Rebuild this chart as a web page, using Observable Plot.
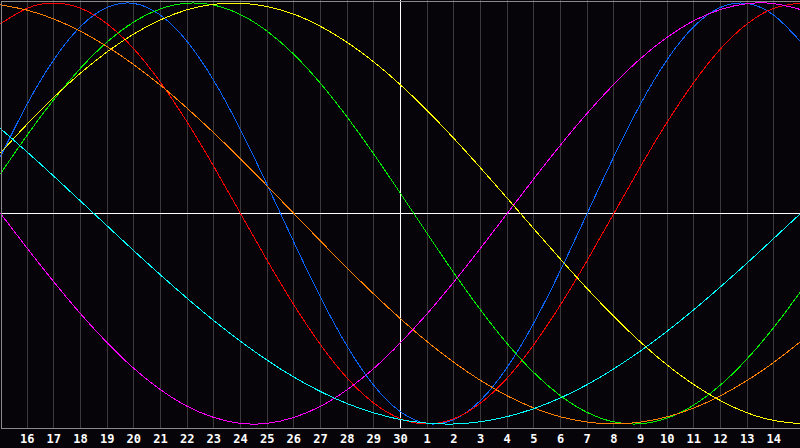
<!DOCTYPE html>
<html>
<head>
<meta charset="utf-8">
<script src="https://cdn.jsdelivr.net/npm/d3@7"></script>
<script src="https://cdn.jsdelivr.net/npm/@observablehq/plot@0.6"></script>
<style>
html, body { margin: 0; padding: 0; background: #060409; overflow: hidden; }
#chart svg { display: block; }
</style>
</head>
<body>
<div id="chart"></div>
<script>
// Day of month for each column position (left edge .. right edge)
const dayLabels = [15,16,17,18,19,20,21,22,23,24,25,26,27,28,29,30,1,2,3,4,5,6,7,8,9,10,11,12,13,14,15];
const todayIndex = 15; // day 30, the white centre line

// Cycle values at each day position (-1 .. 1)
const physical     = [0.270,0.520,0.731,0.888,0.979,0.998,0.942,0.817,0.631,0.398,0.136,-0.136,-0.398,-0.631,-0.817,-0.942,-0.998,-0.979,-0.888,-0.731,-0.520,-0.270,0.000,0.270,0.520,0.731,0.888,0.979,0.998,0.942,0.817];
const emotional    = [0.901,0.975,1.000,0.975,0.901,0.782,0.623,0.434,0.223,0.000,-0.223,-0.434,-0.623,-0.782,-0.901,-0.975,-1.000,-0.975,-0.901,-0.782,-0.623,-0.434,-0.223,0.000,0.223,0.434,0.623,0.782,0.901,0.975,1.000];
const intellectual = [0.189,0.372,0.541,0.690,0.815,0.910,0.972,0.999,0.990,0.945,0.866,0.756,0.618,0.458,0.282,0.095,-0.095,-0.282,-0.458,-0.618,-0.756,-0.866,-0.945,-0.990,-0.999,-0.972,-0.910,-0.815,-0.690,-0.541,-0.372];
const intuitive    = [0.000,-0.165,-0.325,-0.476,-0.614,-0.736,-0.837,-0.916,-0.969,-0.997,-0.997,-0.969,-0.916,-0.837,-0.736,-0.614,-0.476,-0.325,-0.165,0.000,0.165,0.325,0.476,0.614,0.736,0.837,0.916,0.969,0.997,0.997,0.969];
const aesthetic    = [0.288,0.425,0.552,0.667,0.768,0.853,0.920,0.968,0.994,0.999,0.983,0.947,0.889,0.813,0.720,0.611,0.489,0.357,0.217,0.073,-0.073,-0.217,-0.357,-0.489,-0.611,-0.720,-0.813,-0.889,-0.947,-0.983,-0.999];
const awareness    = [0.991,0.966,0.924,0.866,0.793,0.707,0.609,0.500,0.383,0.259,0.131,0.000,-0.131,-0.259,-0.383,-0.500,-0.609,-0.707,-0.793,-0.866,-0.924,-0.966,-0.991,-1.000,-0.991,-0.966,-0.924,-0.866,-0.793,-0.707,-0.609];
const spiritual    = [0.403,0.292,0.177,0.059,-0.059,-0.177,-0.292,-0.403,-0.509,-0.607,-0.697,-0.777,-0.846,-0.903,-0.947,-0.979,-0.996,-1.000,-0.989,-0.965,-0.927,-0.876,-0.813,-0.738,-0.653,-0.559,-0.457,-0.348,-0.235,-0.118,0.000];

const seriesList = [
  {name: "Physical",     values: physical,     color: "#0a64ff"},
  {name: "Emotional",    values: emotional,    color: "#ff0000"},
  {name: "Intellectual", values: intellectual, color: "#00f000"},
  {name: "Intuitive",    values: intuitive,    color: "#ff00ff"},
  {name: "Aesthetic",    values: aesthetic,    color: "#ffff00"},
  {name: "Awareness",    values: awareness,    color: "#ff8000"},
  {name: "Spiritual",    values: spiritual,    color: "#00ffff"}
];

const idx = dayLabels.map((d, i) => i);
const gridTicks = idx.slice(1, -1);

const lineMarks = seriesList.map(s =>
  Plot.line(s.values.map((v, i) => ({i, v})), {
    x: "i", y: "v", stroke: s.color, strokeWidth: 1, curve: "natural", shapeRendering: "crispEdges"
  })
);

const chart = Plot.plot({
  width: 800,
  height: 448,
  marginLeft: 0,
  marginRight: 0,
  marginTop: 0,
  marginBottom: 20,
  style: {background: "#060409", color: "white", fontFamily: "'DejaVu Sans Mono', monospace", fontSize: "12px", fontWeight: "bold"},
  x: {domain: [0, dayLabels.length - 1], range: [0, 800]},
  y: {domain: [-1.0214, 1.0119], axis: null},
  marks: [
    Plot.ruleX(gridTicks, {stroke: "#3a3a3a", strokeWidth: 1, shapeRendering: "crispEdges"}),
    Plot.ruleX([todayIndex], {stroke: "white", strokeWidth: 1, shapeRendering: "crispEdges"}),
    Plot.ruleY([0], {stroke: "white", strokeWidth: 1, shapeRendering: "crispEdges"}),
    ...lineMarks,
    Plot.frame({stroke: "#8a8a8a", inset: 0.5, shapeRendering: "crispEdges"}),
    Plot.axisX(gridTicks, {tickSize: 0, tickPadding: 6, label: null, tickFormat: i => dayLabels[i], fill: "white", fontWeight: "bold", fontSize: 12})
  ]
});
document.getElementById("chart").append(chart);
</script>
</body>
</html>
